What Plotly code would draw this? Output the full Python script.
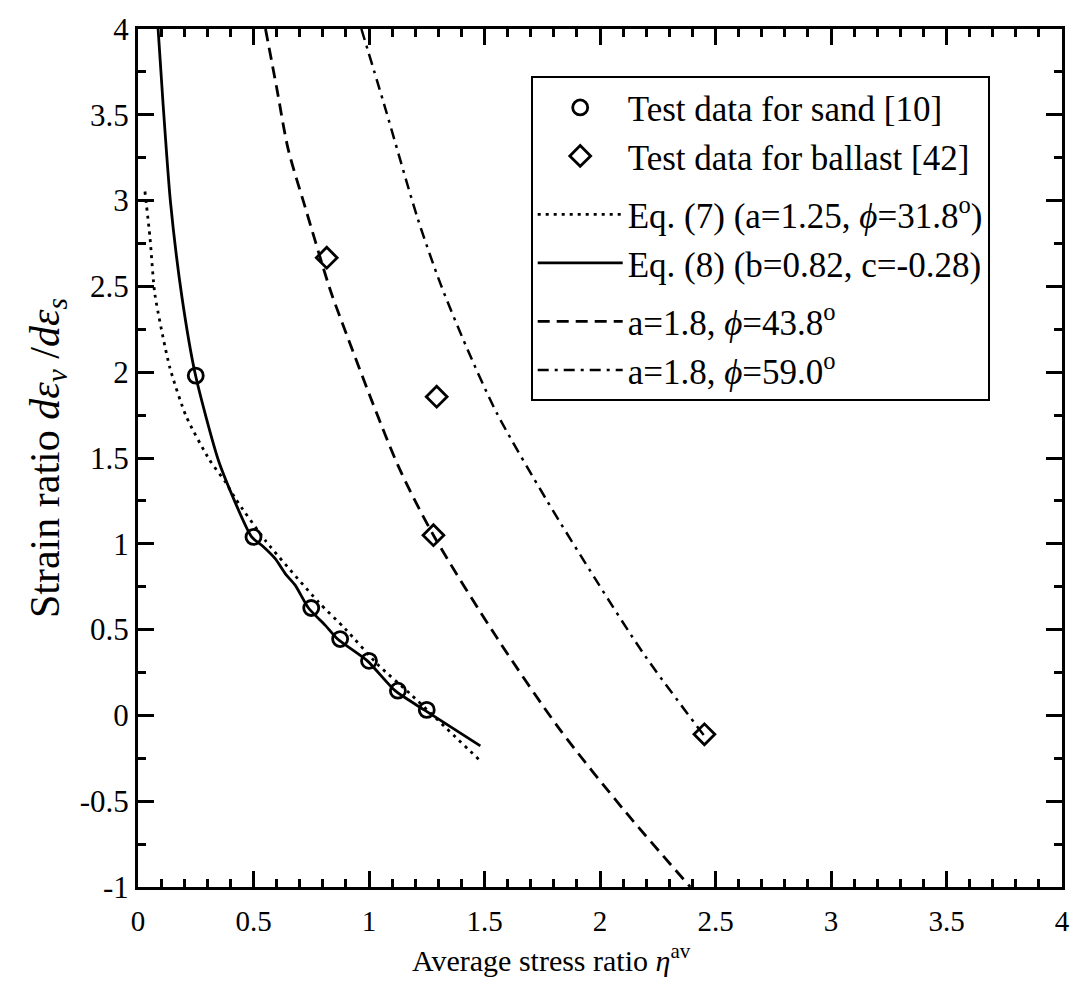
import plotly.graph_objects as go

# ---------------- data ----------------
sand_x = [0.25, 0.50, 0.75, 0.875, 1.00, 1.125, 1.25]
sand_y = [1.98, 1.04, 0.626, 0.445, 0.318, 0.144, 0.032]

ballast_x = [0.817, 1.293, 1.279, 2.452]
ballast_y = [2.667, 1.857, 1.050, -0.110]

eq7_x = [0.030, 0.052, 0.073, 0.137, 0.209, 0.309, 0.381, 0.424, 0.552, 0.781, 0.896, 1.039, 1.182, 1.482]
eq7_y = [3.053, 2.783, 2.455, 2.031, 1.741, 1.490, 1.355, 1.259, 1.018, 0.661, 0.506, 0.295, 0.121, -0.265]

eq8_x = [0.087, 0.109, 0.140, 0.190, 0.249, 0.352, 0.492, 0.538, 0.595, 0.638, 0.681, 0.738, 0.810,
         0.864, 0.993, 1.113, 1.239, 1.482]
eq8_y = [4.000, 3.554, 3.000, 2.440, 1.982, 1.471, 1.040, 0.989, 0.912, 0.825, 0.758, 0.626, 0.526,
         0.445, 0.318, 0.144, 0.032, -0.178]

phi438_x = [0.552, 0.600, 0.650, 0.724, 0.824, 0.853, 1.124, 1.279, 1.554, 1.825, 2.112, 2.391]
phi438_y = [4.000, 3.660, 3.300, 2.960, 2.513, 2.400, 1.461, 1.050, 0.452, -0.080, -0.565, -1.000]

phi590_x = [0.967, 1.067, 1.210, 1.310, 1.425, 1.554, 1.768, 1.983, 2.197, 2.452]
phi590_y = [4.000, 3.554, 2.899, 2.513, 2.137, 1.760, 1.257, 0.788, 0.343, -0.120]

x_ticks = [0, 0.5, 1, 1.5, 2, 2.5, 3, 3.5, 4]
x_ticktext = ["0", "0.5", "1", "1.5", "2", "2.5", "3", "3.5", "4"]
y_ticks = [-1, -0.5, 0, 0.5, 1, 1.5, 2, 2.5, 3, 3.5, 4]
y_ticktext = ["-1", "-0.5", "0", "0.5", "1", "1.5", "2", "2.5", "3", "3.5", "4"]

names = [
    "Test data for sand [10]",
    "Test data for ballast [42]",
    "Eq. (7) (a=1.25, <i>ϕ</i>=31.8<sup>o</sup>)",
    "Eq. (8) (b=0.82, c=-0.28)",
    "a=1.8, <i>ϕ</i>=43.8<sup>o</sup>",
    "a=1.8, <i>ϕ</i>=59.0<sup>o</sup>",
]

FONT = "Liberation Serif"
BLACK = "black"

fig = go.Figure()

fig.add_trace(go.Scatter(x=sand_x, y=sand_y, mode="markers", name=names[0], legendgroup="g1",
                         marker=dict(symbol="circle-open", size=15, color=BLACK, line=dict(width=2.8, color=BLACK))))
fig.add_trace(go.Scatter(x=ballast_x, y=ballast_y, mode="markers", name=names[1], legendgroup="g1",
                         marker=dict(symbol="diamond-open", size=16, color=BLACK, line=dict(width=2.8, color=BLACK))))
fig.add_trace(go.Scatter(x=eq7_x, y=eq7_y, mode="lines", name=names[2], legendgroup="g2",
                         line=dict(color=BLACK, width=2.8, dash="3px,5px", shape="spline", smoothing=0.6)))
fig.add_trace(go.Scatter(x=eq8_x, y=eq8_y, mode="lines", name=names[3], legendgroup="g2",
                         line=dict(color=BLACK, width=2.8, shape="spline", smoothing=0.6)))
fig.add_trace(go.Scatter(x=phi438_x, y=phi438_y, mode="lines", name=names[4], legendgroup="g3",
                         line=dict(color=BLACK, width=2.8, dash="12px,7px", shape="spline", smoothing=0.8)))
fig.add_trace(go.Scatter(x=phi590_x, y=phi590_y, mode="lines", name=names[5], legendgroup="g3",
                         line=dict(color=BLACK, width=2.5, dash="11px,6px,3px,6px", shape="spline", smoothing=0.8)))

axis_common = dict(
    showline=True, linewidth=3, linecolor=BLACK, mirror="allticks",
    ticks="inside", ticklen=16, tickwidth=2.5, tickcolor=BLACK,
    showgrid=False, zeroline=False,
)

fig.update_xaxes(range=[0, 4], tickvals=x_ticks, ticktext=x_ticktext,
                 tickfont=dict(family=FONT, size=29, color=BLACK), ticklabelstandoff=6,
                 minor=dict(dtick=0.1, ticks="inside", ticklen=8, tickwidth=2.5, tickcolor=BLACK, showgrid=False),
                 **axis_common)
fig.update_yaxes(range=[-1, 4], tickvals=y_ticks, ticktext=y_ticktext,
                 tickfont=dict(family=FONT, size=31, color=BLACK),
                 minor=dict(dtick=0.25, ticks="inside", ticklen=8, tickwidth=2.5, tickcolor=BLACK, showgrid=False),
                 title=dict(text="Strain ratio <i>dε</i><sub><i>v</i></sub> /<i>dε</i><sub><i>s</i></sub>",
                            font=dict(family=FONT, size=42, color=BLACK), standoff=8),
                 **axis_common)

fig.add_annotation(text="Average stress ratio <i>η</i><sup>av</sup>", xref="paper", yref="paper",
                   x=0.447, y=-0.083, xanchor="center", yanchor="middle", showarrow=False,
                   font=dict(family=FONT, size=30, color=BLACK))

fig.update_layout(
    width=1082, height=992,
    margin=dict(l=138, r=12, t=23, b=105),
    paper_bgcolor="white", plot_bgcolor="white",
    font=dict(family=FONT, color=BLACK),
    showlegend=True,
    legend=dict(x=0.425, y=0.945, xanchor="left", yanchor="top",
                bgcolor="white", bordercolor=BLACK, borderwidth=2,
                font=dict(family=FONT, size=35, color=BLACK),
                itemwidth=85, tracegroupgap=10, traceorder="grouped"),
)

fig.write_html("out.html")
